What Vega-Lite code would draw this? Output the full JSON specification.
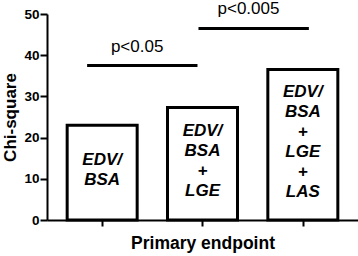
{
 "$schema": "https://vega.github.io/schema/vega-lite/v6.json",
 "width": 311,
 "height": 206,
 "autosize": "none",
 "padding": {"left": 47, "top": 14, "right": 0, "bottom": 36},
 "background": "white",
 "config": {
  "view": {"stroke": null},
  "font": "Liberation Sans",
  "axis": {"domainColor": "black", "domainWidth": 2, "tickColor": "black", "tickWidth": 2, "labelColor": "black", "titleColor": "black", "grid": false, "labelFont": "Liberation Sans", "titleFont": "Liberation Sans", "labelFontWeight": "bold", "titleFontWeight": "bold"},
  "axisX": {"titleFontSize": 17.5, "titlePadding": 7},
  "axisY": {"titleFontSize": 17, "titlePadding": 4},
  "text": {"font": "Liberation Sans", "fontSize": 17, "fontWeight": "bold", "fontStyle": "italic", "lineBreak": "\n", "lineHeight": 20, "baseline": "middle", "align": "center", "color": "black"}
 },
 "datasets": {
  "bars": [
   {"model": "EDV/BSA", "index": 1, "chi": 23, "label": "EDV/\nBSA"},
   {"model": "EDV/BSA + LGE", "index": 2, "chi": 27.3, "label": "EDV/\nBSA\n+\nLGE"},
   {"model": "EDV/BSA + LGE + LAS", "index": 3, "chi": 36.5, "label": "EDV/\nBSA\n+\nLGE\n+\nLAS"}
  ],
  "sig": [
   {"from": 0.85, "to": 1.95, "level": 37.5, "label": "p<0.05"},
   {"from": 1.96, "to": 3.06, "level": 46.5, "label": "p<0.005"}
  ]
 },
 "layer": [
  {
   "data": {"name": "bars"},
   "mark": {"type": "bar", "width": 70, "fill": "white", "stroke": "black", "strokeWidth": 3},
   "encoding": {
    "x": {"field": "index", "type": "quantitative", "scale": {"domain": [0.5, 3.5], "nice": false, "zero": false},
     "axis": {"values": [1, 2, 3], "labels": false, "tickSize": 6, "title": "Primary endpoint"}},
    "y": {"field": "chi", "type": "quantitative", "scale": {"domain": [0, 50], "nice": false},
     "axis": {"values": [0, 10, 20, 30, 40, 50], "tickSize": 7, "labelFontSize": 13.5, "labelPadding": 1, "title": "Chi-square"}}
   }
  },
  {
   "data": {"name": "bars"},
   "transform": [{"filter": {"field": "index", "equal": 1}}],
   "mark": {"type": "text", "dy": -13},
   "encoding": {
    "x": {"field": "index", "type": "quantitative", "scale": {"domain": [0.5, 3.5], "nice": false, "zero": false}},
    "y": {"field": "chi", "type": "quantitative", "scale": {"domain": [0, 100], "nice": false}, "axis": null},
    "text": {"field": "label"}
   }
  },
  {
   "data": {"name": "bars"},
   "transform": [{"filter": {"field": "index", "equal": 2}}],
   "mark": {"type": "text", "dy": -33},
   "encoding": {
    "x": {"field": "index", "type": "quantitative", "scale": {"domain": [0.5, 3.5], "nice": false, "zero": false}},
    "y": {"field": "chi", "type": "quantitative", "scale": {"domain": [0, 100], "nice": false}, "axis": null},
    "text": {"field": "label"}
   }
  },
  {
   "data": {"name": "bars"},
   "transform": [{"filter": {"field": "index", "equal": 3}}],
   "mark": {"type": "text", "dy": -53},
   "encoding": {
    "x": {"field": "index", "type": "quantitative", "scale": {"domain": [0.5, 3.5], "nice": false, "zero": false}},
    "y": {"field": "chi", "type": "quantitative", "scale": {"domain": [0, 100], "nice": false}, "axis": null},
    "text": {"field": "label"}
   }
  },
  {
   "data": {"name": "sig"},
   "mark": {"type": "rule", "strokeWidth": 3, "color": "black"},
   "encoding": {
    "x": {"field": "from", "type": "quantitative", "scale": {"domain": [0.5, 3.5], "nice": false, "zero": false}},
    "x2": {"field": "to"},
    "y": {"field": "level", "type": "quantitative", "scale": {"domain": [0, 50], "nice": false}, "axis": null}
   }
  },
  {
   "data": {"name": "sig"},
   "mark": {"type": "text", "fontSize": 17, "fontWeight": "normal", "fontStyle": "normal", "dx": 50, "dy": -14, "align": "center", "baseline": "alphabetic"},
   "encoding": {
    "x": {"field": "from", "type": "quantitative", "scale": {"domain": [0.5, 3.5], "nice": false, "zero": false}},
    "y": {"field": "level", "type": "quantitative", "scale": {"domain": [0, 50], "nice": false}, "axis": null},
    "text": {"field": "label"}
   }
  }
 ],
 "resolve": {"scale": {"y": "independent"}}
}
